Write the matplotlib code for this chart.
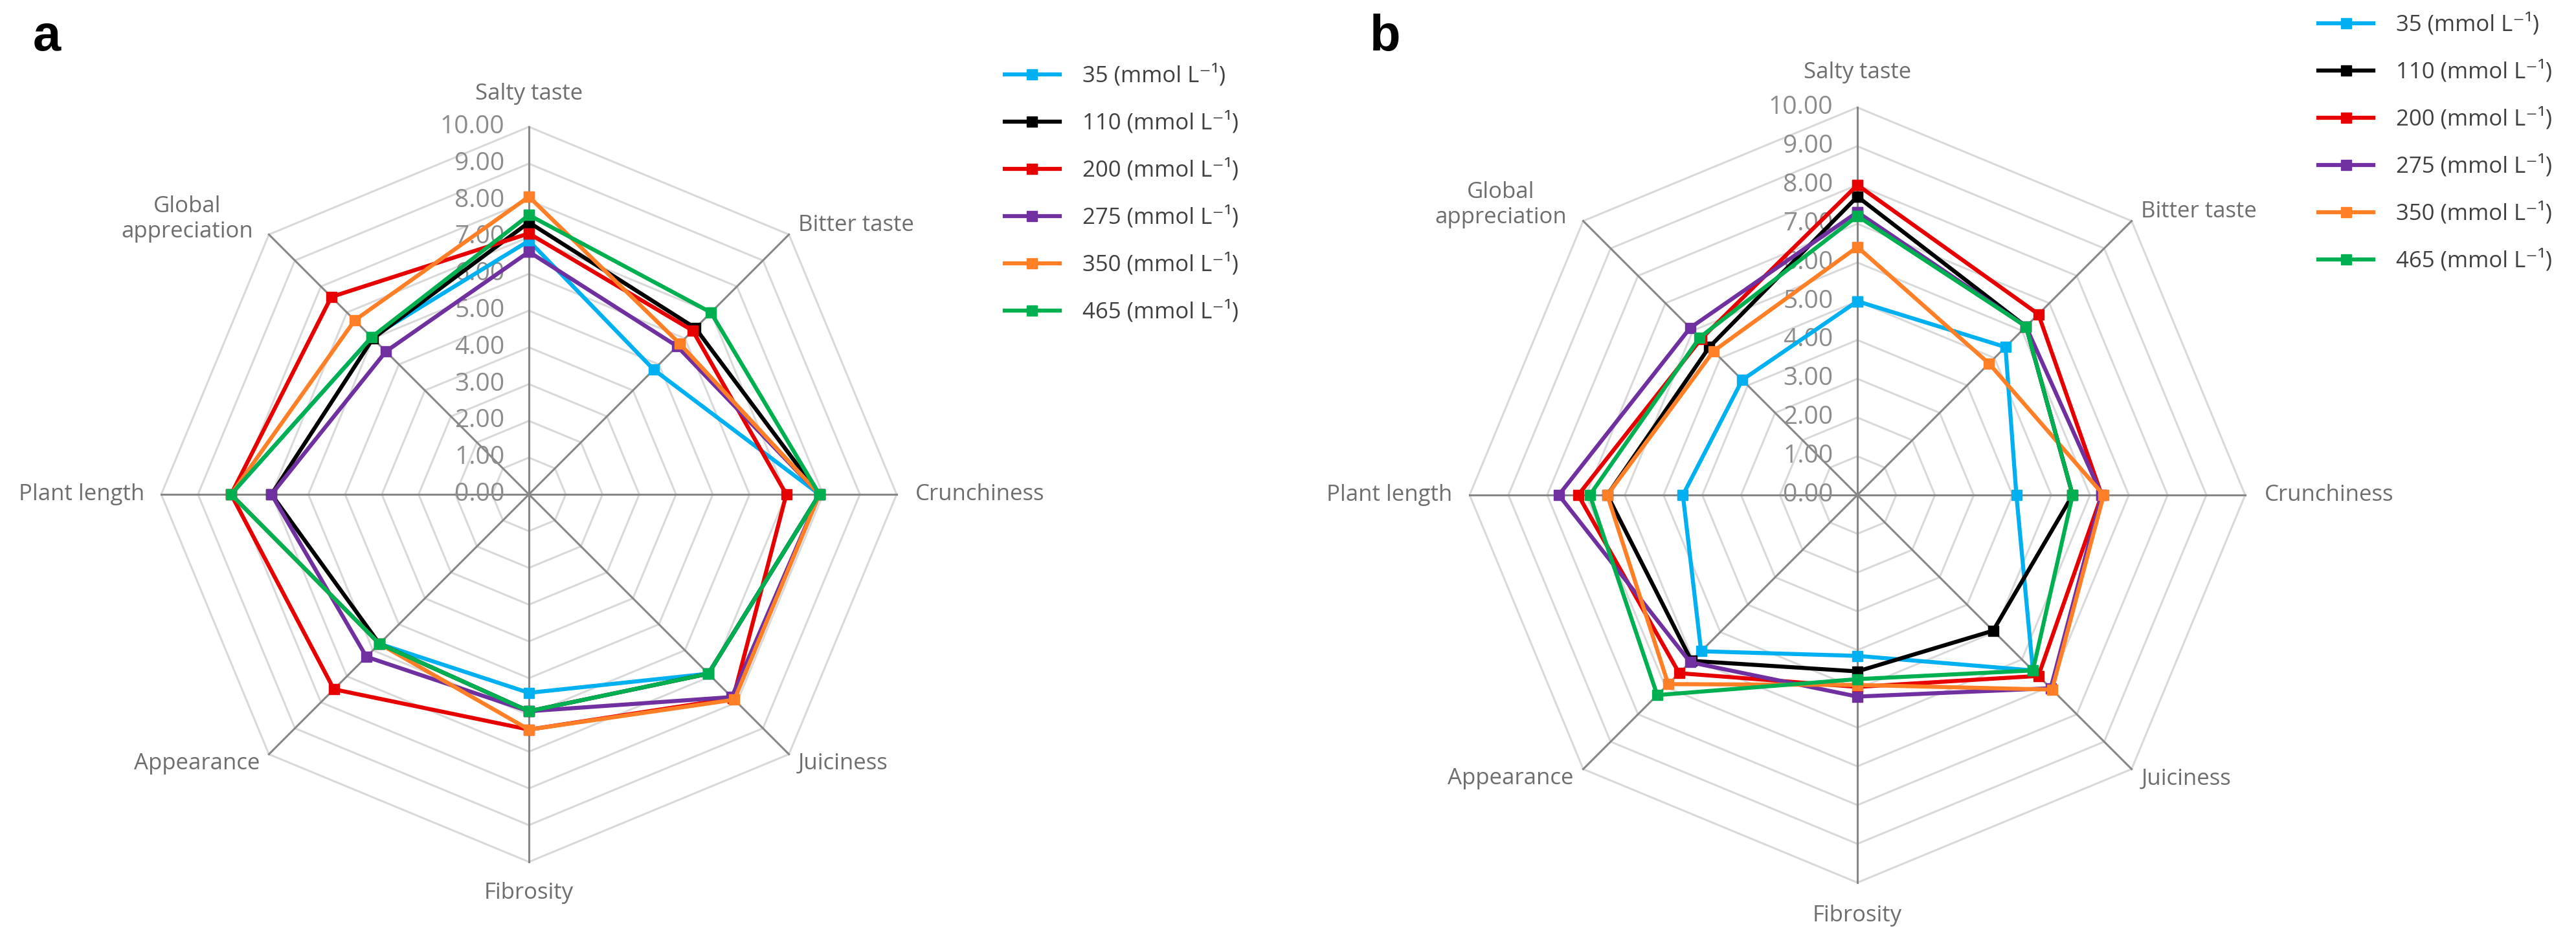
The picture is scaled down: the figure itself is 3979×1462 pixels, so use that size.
import numpy as np
import matplotlib
matplotlib.use('Agg')
import matplotlib.pyplot as plt
from matplotlib import font_manager

names = set(f.name for f in font_manager.fontManager.ttflist)
base = 'Liberation Sans Narrow' if 'Liberation Sans Narrow' in names else 'Open Sans'
plt.rcParams['font.family'] = [base, 'DejaVu Sans']

categories = ['Salty taste', 'Bitter taste', 'Crunchiness', 'Juiciness',
              'Fibrosity', 'Appearance', 'Plant length', 'Global\nappreciation']
series = ['35 (mmol L\u207b\u00b9)', '110 (mmol L\u207b\u00b9)', '200 (mmol L\u207b\u00b9)',
          '275 (mmol L\u207b\u00b9)', '350 (mmol L\u207b\u00b9)', '465 (mmol L\u207b\u00b9)']
colors = ['#00B0F0', '#000000', '#E60000', '#7030A0', '#FF7F27', '#00B050']

# panel a
a35 = [6.9, 4.8, 7.9, 6.9, 5.4, 5.75, 8.1, 6.05]
a110 = [7.4, 6.4, 7.9, 6.9, 5.9, 5.75, 7.0, 6.0]
a200 = [7.1, 6.3, 7.0, 7.85, 6.4, 7.5, 8.1, 7.6]
a275 = [6.6, 5.7, 7.9, 7.8, 5.9, 6.25, 7.0, 5.5]
a350 = [8.1, 5.8, 7.9, 7.9, 6.4, 5.75, 8.1, 6.7]
a465 = [7.6, 7.0, 7.9, 6.9, 5.9, 5.75, 8.1, 6.05]

# panel b
b35 = [5.0, 5.4, 4.1, 6.4, 4.15, 5.7, 4.5, 4.2]
b110 = [7.7, 6.15, 5.55, 4.95, 4.55, 6.05, 6.45, 5.4]
b200 = [8.0, 6.6, 6.3, 6.6, 4.95, 6.5, 7.2, 5.7]
b275 = [7.3, 6.15, 6.3, 7.05, 5.2, 6.1, 7.7, 6.1]
b350 = [6.4, 4.8, 6.35, 7.1, 4.9, 6.9, 6.45, 5.25]
b465 = [7.2, 6.15, 5.55, 6.4, 4.75, 7.3, 6.9, 5.75]

levels = np.arange(0, 11)

# label placement: radius, ha, va
lab_pos = [(10.9, 'center', 'center'), (10.35, 'left', 'center'), (10.5, 'left', 'center'),
           (10.35, 'left', 'center'), (10.85, 'center', 'center'), (10.35, 'right', 'center'),
           (10.45, 'right', 'center'), (10.6, 'right', 'center')]

fig = plt.figure(figsize=(39.79, 14.62), dpi=100)


def radar(rect, data, leg_xy):
    ax = fig.add_axes(rect, projection='polar')
    ax.set_theta_zero_location('N')
    ax.set_theta_direction(-1)
    ax.set_ylim(0, 10)
    ax.set_xticks([])
    ax.set_yticks([])
    ax.grid(False)
    ax.spines['polar'].set_visible(False)
    ax.patch.set_visible(False)

    th = np.arange(len(categories)) * 2 * np.pi / len(categories)
    thc = np.append(th, th[0])

    for lev in levels[1:]:
        ax.plot(thc, [lev] * len(thc), color='#d9d9d9', lw=2.2, zorder=1, clip_on=False)
    for t in th:
        ax.plot([t, t], [0, 10], color='#878787', lw=2.2, zorder=2, clip_on=False)

    for lev in levels:
        ax.annotate('{:.2f}'.format(lev), xy=(0, lev), xytext=(-27, 0),
                    textcoords='offset points', ha='right', va='center',
                    fontsize=28, color='#8c8c8c', zorder=3)

    for t, name, (r, ha, va) in zip(th, categories, lab_pos):
        ax.text(t, r, name, ha=ha, va=va, fontsize=25, color='#6e6e6e',
                multialignment='center', zorder=3)

    for i, (v, c, lab) in enumerate(zip(data, colors, series)):
        v = list(v) + [v[0]]
        ax.plot(thc, v, color=c, lw=4.5, marker='s', ms=12, label=lab,
                zorder=5 + i, clip_on=False)

    leg = ax.legend(loc='upper left', bbox_to_anchor=leg_xy, bbox_transform=fig.transFigure,
                    frameon=False, fontsize=25, handlelength=2.45, handletextpad=1.0,
                    labelspacing=1.08, borderpad=0, borderaxespad=0)
    for t in leg.get_texts():
        t.set_color('#404040')
    return ax


radar([0.06258, 0.0889, 0.2855, 0.777], [a35, a110, a200, a275, a350, a465],
      (0.390, 0.932))
radar([0.5705, 0.0670, 0.30108, 0.8194], [b35, b110, b200, b275, b350, b465],
      (0.900, 0.986))

fig.text(0.0181, 0.9466, 'a', ha='center', va='baseline', fontsize=56,
         fontweight='bold', family=['Liberation Sans', 'DejaVu Sans'])
fig.text(0.5378, 0.9466, 'b', ha='center', va='baseline', fontsize=56,
         fontweight='bold', family=['Liberation Sans', 'DejaVu Sans'])

fig.savefig('out.png', dpi=100)
